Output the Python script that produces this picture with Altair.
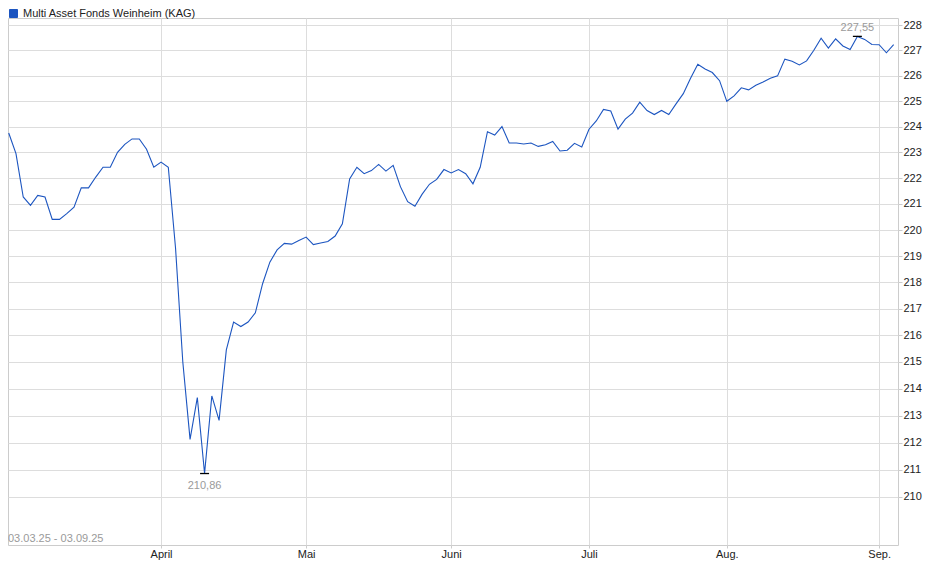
import altair as alt
import pandas as pd

series_name = "Multi Asset Fonds Weinheim (KAG)"
range_label = "03.03.25 - 03.09.25"

# one value per trading day, 03.03.25 .. 03.09.25
values = [
    223.75, 222.95, 221.27, 220.95, 221.33, 221.27, 220.41, 220.41, 220.63, 220.88,
    221.62, 221.62, 222.04, 222.42, 222.42, 223.00, 223.31, 223.52, 223.52, 223.12,
    222.42, 222.62, 222.42, 219.30, 215.00, 212.12, 213.67, 210.86, 213.73, 212.82,
    215.45, 216.50, 216.33, 216.50, 216.85, 217.95, 218.77, 219.24, 219.49, 219.46,
    219.60, 219.73, 219.44, 219.50, 219.56, 219.77, 220.24, 221.97, 222.42, 222.17,
    222.29, 222.53, 222.27, 222.49, 221.67, 221.09, 220.91, 221.38, 221.76, 221.95,
    222.33, 222.20, 222.33, 222.17, 221.78, 222.42, 223.80, 223.67, 224.00, 223.36,
    223.36, 223.32, 223.36, 223.23, 223.29, 223.42, 223.05, 223.08, 223.35, 223.21,
    223.90, 224.22, 224.67, 224.61, 223.90, 224.29, 224.53, 224.96, 224.63, 224.47,
    224.63, 224.47, 224.89, 225.29, 225.90, 226.45, 226.26, 226.12, 225.80, 224.99,
    225.20, 225.52, 225.44, 225.62, 225.75, 225.90, 225.99, 226.65, 226.57, 226.42,
    226.58, 227.00, 227.48, 227.09, 227.45, 227.17, 227.03, 227.55, 227.43, 227.23,
    227.22, 226.90, 227.22,
]

# first trading day of each month (position in the series) and its label
tick_index = [21, 41, 61, 80, 99, 120]
tick_labels = ["April", "Mai", "Juni", "Juli", "Aug.", "Sep."]
y_ticks = list(range(210, 229))

BLUE = "#1c55c0"
FONT = "Liberation Sans"

df = pd.DataFrame({"i": list(range(len(values))), "v": values, "series": series_name})

imax = max(range(len(values)), key=lambda k: values[k])
imin = min(range(len(values)), key=lambda k: values[k])
ext = pd.DataFrame({
    "i": [imax, imin],
    "v": [values[imax], values[imin]],
    "label": [f"{values[imax]:.2f}".replace(".", ","), f"{values[imin]:.2f}".replace(".", ",")],
    "pos": ["max", "min"],
})

label_expr = "''"
for idx, lab in reversed(list(zip(tick_index, tick_labels))):
    label_expr = f"datum.value == {idx} ? '{lab}' : ({label_expr})"

W, H = 890, 527

x_enc = alt.X(
    "i:Q",
    scale=alt.Scale(domain=[-0.1, 122.6], nice=False, zero=False),
    axis=alt.Axis(
        values=tick_index, labelExpr=label_expr, title=None, grid=True,
        gridColor="#dddddd", domain=False, ticks=True, tickColor="#cccccc",
        tickSize=3, labelFont=FONT, labelFontSize=11, labelColor="#222222",
        labelPadding=0, labelFlush=False, labelOverlap=False,
    ),
)
y_enc = alt.Y(
    "v:Q",
    scale=alt.Scale(type="log", domain=[208.25, 228.28], nice=False),
    axis=alt.Axis(
        orient="right", values=y_ticks, format="d", title=None, grid=True,
        gridColor="#dddddd", domain=False, ticks=True, tickColor="#cccccc",
        tickSize=4, labelFont=FONT, labelFontSize=11, labelColor="#222222",
        labelPadding=1, labelOverlap=False,
    ),
)

line = alt.Chart(df).mark_line(strokeWidth=1.1, clip=True).encode(
    x=x_enc,
    y=y_enc,
    color=alt.Color(
        "series:N",
        scale=alt.Scale(domain=[series_name], range=[BLUE]),
        legend=alt.Legend(
            title=None, orient="none", legendX=0, legendY=-10,
            symbolType="square", symbolSize=64, symbolFillColor=BLUE,
            symbolStrokeColor="#1b2a55", symbolStrokeWidth=1,
            labelFont=FONT, labelFontSize=11, labelColor="#222222",
            labelOffset=4, labelLimit=0, padding=0, rowPadding=0,
        ),
    ),
)

markers = alt.Chart(ext).mark_point(
    shape="stroke", size=81, color="#000000", strokeWidth=1.3, opacity=1
).encode(x="i:Q", y="v:Q")

max_label = alt.Chart(ext).transform_filter("datum.pos == 'max'").mark_text(
    dy=-8, fontSize=11, font=FONT, color="#9a9a9a", baseline="middle"
).encode(x="i:Q", y="v:Q", text="label:N")

min_label = alt.Chart(ext).transform_filter("datum.pos == 'min'").mark_text(
    dy=12, fontSize=11, font=FONT, color="#9a9a9a", baseline="middle"
).encode(x="i:Q", y="v:Q", text="label:N")

range_text = alt.Chart(pd.DataFrame({"t": [range_label]})).mark_text(
    align="left", baseline="middle", fontSize=11, font=FONT, color="#9a9a9a"
).encode(x=alt.value(0), y=alt.value(H - 6), text="t:N")

chart = alt.layer(line, markers, max_label, min_label, range_text).properties(
    width=W, height=H,
    padding={"left": 0, "top": 10, "right": 34, "bottom": 24},
    autosize=alt.AutoSizeParams(type="none"),
    background="#ffffff",
).configure_view(stroke="#cccccc", strokeWidth=1)

chart.save("out.html", embed_options={"renderer": "svg", "actions": False})
